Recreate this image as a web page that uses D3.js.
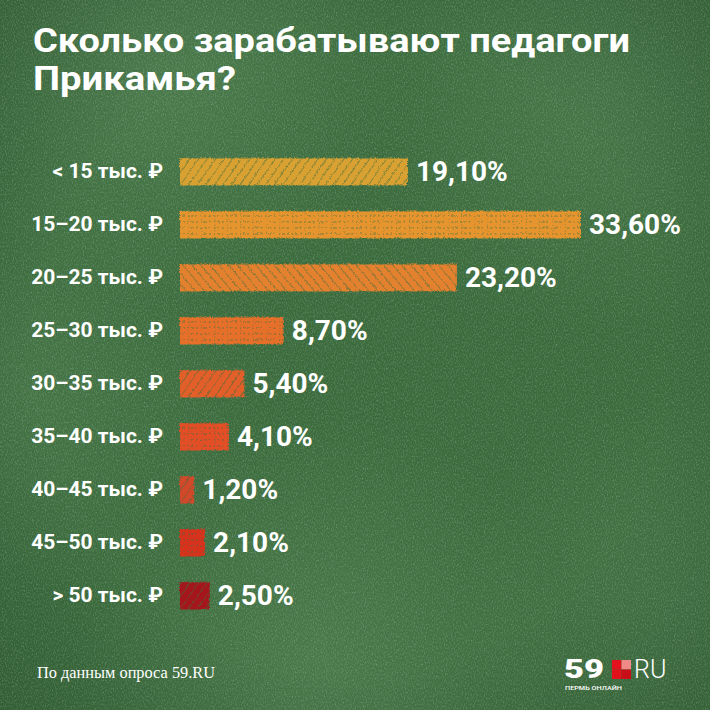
<!DOCTYPE html>
<html>
<head>
<meta charset="utf-8">
<script src="https://cdn.jsdelivr.net/npm/d3@7"></script>
<style>
    html, body { margin: 0; padding: 0; background: #3b6b3d; }
    svg { display: block; }
</style>
</head>
<body>
<div id="chart"></div>
<script>
const categories = ["< 15 тыс. ₽", "15–20 тыс. ₽", "20–25 тыс. ₽", "25–30 тыс. ₽", "30–35 тыс. ₽",
                    "35–40 тыс. ₽", "40–45 тыс. ₽", "45–50 тыс. ₽", "> 50 тыс. ₽"];
const shares = [19.1, 33.6, 23.2, 8.7, 5.4, 4.1, 1.2, 2.1, 2.5];
const valueLabels = ["19,10%", "33,60%", "23,20%", "8,70%", "5,40%", "4,10%", "1,20%", "2,10%", "2,50%"];
const barColors = ["#d9a131", "#e6952f", "#e4812e", "#e6702c", "#e25f29", "#e24f27", "#d2482c", "#d6331f", "#a5181a"];
const hatchTypes = ["diag", "cross", "diag2", "cross", "diag", "cross", "diag", "cross", "diag"];

const W = 710, H = 710;

window.onload = function(e){
    let svg = d3.select("#chart").append("svg")
        .attr("width", W)
        .attr("height", H);
    let defs = svg.append("defs");

    drawBoard(svg, defs);
    makePatterns(defs);
    drawTitle(svg);
    drawBars(svg);
    drawFooter(svg);
};

/**
 * Chalkboard background: flat green, some lighter smudges and chalk dust
 */
function drawBoard(svg, defs){
    svg.append("rect").attr("width", W).attr("height", H).attr("fill", "#3b6b3d");

    const smudges = [
        {cx: 0.22, cy: 0.08, r: 0.35, o: 0.35},
        {cx: 0.85, cy: 0.12, r: 0.35, o: 0.25},
        {cx: 0.05, cy: 0.55, r: 0.3, o: 0.2},
        {cx: 0.45, cy: 0.93, r: 0.35, o: 0.3},
        {cx: 0.95, cy: 0.85, r: 0.3, o: 0.2}
    ];
    smudges.forEach((s, i)=>{
        let g = defs.append("radialGradient").attr("id", "sm" + i)
            .attr("cx", s.cx).attr("cy", s.cy).attr("r", s.r);
        g.append("stop").attr("offset", 0).attr("stop-color", "#6c9a6a").attr("stop-opacity", s.o);
        g.append("stop").attr("offset", 1).attr("stop-color", "#6c9a6a").attr("stop-opacity", 0);
        svg.append("rect").attr("width", W).attr("height", H).attr("fill", `url(#sm${i})`);
    });

    // darker corners
    let vig = defs.append("radialGradient").attr("id", "vig").attr("cx", 0.5).attr("cy", 0.5).attr("r", 0.75);
    vig.append("stop").attr("offset", 0.6).attr("stop-color", "#1f3f22").attr("stop-opacity", 0);
    vig.append("stop").attr("offset", 1).attr("stop-color", "#1f3f22").attr("stop-opacity", 0.35);
    svg.append("rect").attr("width", W).attr("height", H).attr("fill", "url(#vig)");

    // chalk dust
    let noise = defs.append("filter").attr("id", "dust").attr("x", 0).attr("y", 0).attr("width", 1).attr("height", 1);
    noise.append("feTurbulence").attr("type", "fractalNoise").attr("baseFrequency", "0.9 0.5")
        .attr("numOctaves", 2).attr("seed", 7);
    noise.append("feColorMatrix").attr("type", "matrix")
        .attr("values", "0 0 0 0 0.85  0 0 0 0 0.95  0 0 0 0 0.85  1.4 0 0 0 -0.62");
    svg.append("rect").attr("width", W).attr("height", H)
        .attr("filter", "url(#dust)").attr("opacity", 0.35);
}

/**
 * Hand-drawn looking hatch overlays and a rough edge filter for the bars
 */
function makePatterns(defs){
    const gap = "#3a6a3c";

    let diag = defs.append("pattern").attr("id", "diag").attr("patternUnits", "userSpaceOnUse")
        .attr("width", 7).attr("height", 7).attr("patternTransform", "rotate(35)");
    diag.append("line").attr("x1", 0).attr("y1", 0).attr("x2", 0).attr("y2", 7)
        .attr("stroke", gap).attr("stroke-width", 1.4).attr("opacity", 0.75);

    let diag2 = defs.append("pattern").attr("id", "diag2").attr("patternUnits", "userSpaceOnUse")
        .attr("width", 7).attr("height", 7).attr("patternTransform", "rotate(-40)");
    diag2.append("line").attr("x1", 0).attr("y1", 0).attr("x2", 0).attr("y2", 7)
        .attr("stroke", gap).attr("stroke-width", 1.4).attr("opacity", 0.75);

    let cross = defs.append("pattern").attr("id", "cross").attr("patternUnits", "userSpaceOnUse")
        .attr("width", 13).attr("height", 6);
    cross.append("line").attr("x1", 0).attr("y1", 3).attr("x2", 13).attr("y2", 3)
        .attr("stroke", gap).attr("stroke-width", 1.2).attr("stroke-dasharray", "2 3 1 2 3 2")
        .attr("opacity", 0.65);
    cross.append("line").attr("x1", 6).attr("y1", 0).attr("x2", 6).attr("y2", 6)
        .attr("stroke", gap).attr("stroke-width", 0.8).attr("stroke-dasharray", "1 2")
        .attr("opacity", 0.45);

    let rough = defs.append("filter").attr("id", "rough").attr("x", -0.05).attr("y", -0.2)
        .attr("width", 1.1).attr("height", 1.4);
    rough.append("feTurbulence").attr("type", "turbulence").attr("baseFrequency", 0.35)
        .attr("numOctaves", 2).attr("seed", 2).attr("result", "t");
    rough.append("feDisplacementMap").attr("in", "SourceGraphic").attr("in2", "t")
        .attr("scale", 3).attr("xChannelSelector", "R").attr("yChannelSelector", "G");
}

function drawTitle(svg){
    let title = svg.append("g").attr("fill", "#fff")
        .style("font-family", "Roboto, 'Open Sans', sans-serif")
        .style("font-weight", 700)
        .style("font-size", "34px");
    title.append("text").attr("x", 33).attr("y", 52)
        .attr("textLength", 597).attr("lengthAdjust", "spacingAndGlyphs")
        .text("Сколько зарабатывают педагоги");
    title.append("text").attr("x", 33).attr("y", 90)
        .attr("textLength", 203).attr("lengthAdjust", "spacingAndGlyphs")
        .text("Прикамья?");
}

function drawBars(svg){
    const x = d3.scaleLinear().domain([0, 33.6]).range([179, 580]);
    const y = d3.scalePoint().domain(categories).range([171, 595]);
    const barH = 27;

    let rows = svg.append("g").selectAll("g")
        .data(categories)
        .enter().append("g")
            .attr("transform", d=>`translate(0, ${y(d)})`);

    let bars = rows.append("g").attr("filter", "url(#rough)");
    bars.append("rect")
        .attr("x", x(0))
        .attr("y", -barH/2)
        .attr("width", (d,i)=>x(shares[i]) - x(0))
        .attr("height", barH)
        .attr("fill", (d,i)=>barColors[i]);
    bars.append("rect")
        .attr("x", x(0))
        .attr("y", -barH/2)
        .attr("width", (d,i)=>x(shares[i]) - x(0))
        .attr("height", barH)
        .attr("fill", (d,i)=>`url(#${hatchTypes[i]})`);

    rows.append("text")
        .attr("x", 163)
        .attr("y", 7)
        .attr("text-anchor", "end")
        .attr("fill", "#fff")
        .style("font-family", "Roboto, sans-serif")
        .style("font-weight", 700)
        .style("font-size", "21px")
        .text(d=>d);

    rows.append("text")
        .attr("x", (d,i)=>x(shares[i]) + 9)
        .attr("y", 10)
        .attr("fill", "#fff")
        .style("font-family", "Roboto, sans-serif")
        .style("font-weight", 700)
        .style("font-size", "28px")
        .text((d,i)=>valueLabels[i]);
}

function drawFooter(svg){
    svg.append("text")
        .attr("x", 37).attr("y", 678)
        .attr("fill", "#fff")
        .attr("textLength", 178).attr("lengthAdjust", "spacingAndGlyphs")
        .style("font-family", "'Liberation Serif', serif")
        .style("font-size", "16px")
        .text("По данным опроса 59.RU");

    // 59.RU logo
    let logo = svg.append("g").attr("transform", "translate(565, 659)");
    logo.append("text").attr("x", -1).attr("y", 19)
        .attr("fill", "#fff")
        .attr("textLength", 40).attr("lengthAdjust", "spacingAndGlyphs")
        .style("font-family", "Roboto, sans-serif").style("font-weight", 900).style("font-size", "25px")
        .text("59");
    const sq = 9.5;
    const cells = [[0, 0, "#e3121c"], [1, 0, "#f08a86"], [0, 1, "#e0111b"], [1, 1, "#c80f18"]];
    cells.forEach(c=>{
        logo.append("rect").attr("x", 47 + c[0]*sq).attr("y", 1 + c[1]*sq)
            .attr("width", sq).attr("height", sq).attr("fill", c[2]);
    });
    logo.append("text").attr("x", 69).attr("y", 19)
        .attr("fill", "#fff")
        .style("font-family", "Roboto, sans-serif").style("font-weight", 300).style("font-size", "25px")
        .text("RU");
    logo.append("text").attr("x", 0).attr("y", 31)
        .attr("fill", "#fff")
        .attr("textLength", 57).attr("lengthAdjust", "spacingAndGlyphs")
        .style("font-family", "Roboto, sans-serif").style("font-weight", 500).style("font-size", "6px")
        .text("ПЕРМЬ ОНЛАЙН");
}
</script>
</body>
</html>
